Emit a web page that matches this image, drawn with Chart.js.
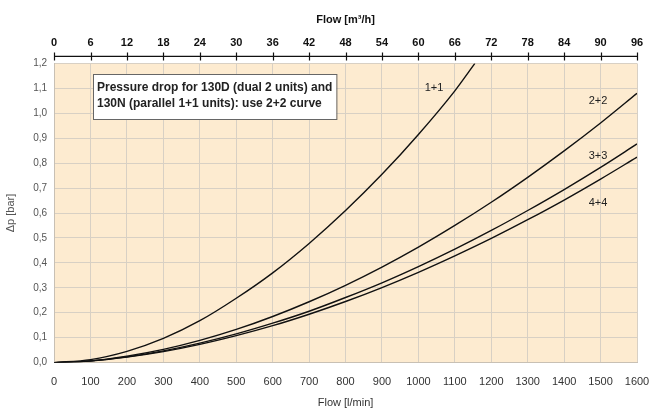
<!DOCTYPE html>
<html>
<head>
<meta charset="utf-8">
<script src="https://cdn.jsdelivr.net/npm/chart.js@4.4.1/dist/chart.umd.min.js"></script>
<style>
  body { margin: 0; background: #fff; }
  #wrap { width: 650px; height: 410px; }
</style>
</head>
<body>
<div id="wrap"><canvas id="dpChart" width="650" height="410"></canvas></div>
<script>
// flow in l/min, pressure drop in bar
const flowPoints = [0, 100, 200, 300, 400, 500, 600, 700, 800, 900, 1000, 1100, 1200, 1300, 1400, 1500, 1600];
const curve11 = [0, 0.012, 0.045, 0.097, 0.168, 0.258, 0.36, 0.478, 0.61, 0.755, 0.915, 1.09];
const curve11End = [1155, 1.2];
const curve22 = [0, 0.007, 0.026, 0.053, 0.089, 0.133, 0.185, 0.244, 0.31, 0.383, 0.463, 0.55, 0.643, 0.743, 0.849, 0.961, 1.08];
const curve33 = [0, 0.007, 0.023, 0.047, 0.078, 0.115, 0.158, 0.206, 0.261, 0.32, 0.385, 0.455, 0.53, 0.61, 0.694, 0.783, 0.877];
const curve44 = [0, 0.006, 0.022, 0.044, 0.073, 0.108, 0.148, 0.194, 0.245, 0.301, 0.362, 0.428, 0.498, 0.573, 0.652, 0.736, 0.824];
const curveNames = ['1+1', '2+2', '3+3', '4+4'];
// where each curve name sits [flow, bar]
const nameSpots = [[1043, 1.1], [1493, 1.05], [1493, 0.83], [1493, 0.64]];
const noteLines = ['Pressure drop for 130D (dual 2 units) and', '130N (parallel 1+1 units): use 2+2 curve'];
const noteSpot = [107, 1.156];

const toPts = (vals) => vals.map((v, i) => ({ x: flowPoints[i], y: v }));
const pts11 = toPts(curve11).concat([{ x: curve11End[0], y: curve11End[1] }]);

const lineStyle = {
  borderColor: '#111',
  borderWidth: 1.4,
  pointRadius: 0,
  fill: false,
  cubicInterpolationMode: 'monotone',
  xAxisID: 'x',
};

// let the last tick label run past the plot edge, like the original
const noSidePad = (scale) => { scale.paddingRight = 0; };

const plotBg = {
  id: 'plotBg',
  beforeDraw(chart) {
    const { ctx, chartArea } = chart;
    ctx.save();
    ctx.fillStyle = '#fdebd0';
    ctx.fillRect(chartArea.left, chartArea.top, chartArea.right - chartArea.left, chartArea.bottom - chartArea.top);
    ctx.restore();
  },
};

const extras = {
  id: 'extras',
  afterDraw(chart) {
    const { ctx, chartArea } = chart;
    const xs = chart.scales.x;
    const ys = chart.scales.y;
    const top = chart.scales.x2;
    ctx.save();
    // top axis line with ticks, a little above the plot
    const ay = chartArea.top - 7;
    ctx.strokeStyle = '#111';
    ctx.lineWidth = 1.2;
    ctx.beginPath();
    ctx.moveTo(top.left, ay);
    ctx.lineTo(top.right, ay);
    top.ticks.forEach((t) => {
      const px = Math.round(top.getPixelForValue(t.value)) + 0.5;
      ctx.moveTo(px, ay - 4);
      ctx.lineTo(px, ay + 4);
    });
    ctx.stroke();

    // curve names
    ctx.fillStyle = '#222';
    ctx.font = '11px "Liberation Sans", Arial, sans-serif';
    ctx.textAlign = 'center';
    ctx.textBaseline = 'middle';
    curveNames.forEach((n, i) => {
      ctx.fillText(n, xs.getPixelForValue(nameSpots[i][0]), ys.getPixelForValue(nameSpots[i][1]));
    });

    // note box
    ctx.font = 'bold 12px "Liberation Sans", Arial, sans-serif';
    ctx.textAlign = 'left';
    ctx.textBaseline = 'alphabetic';
    const bx = Math.round(xs.getPixelForValue(noteSpot[0]));
    const by = Math.round(ys.getPixelForValue(noteSpot[1]));
    const w = Math.max(...noteLines.map((l) => ctx.measureText(l).width)) + 8;
    ctx.fillStyle = '#fff';
    ctx.fillRect(bx, by, w, 45);
    ctx.strokeStyle = '#666';
    ctx.lineWidth = 1;
    ctx.strokeRect(bx + 0.5, by + 0.5, w, 45);
    ctx.fillStyle = '#222';
    noteLines.forEach((l, i) => ctx.fillText(l, bx + 4, by + 17 + i * 16));
    ctx.restore();
  },
};

const ctx = document.getElementById('dpChart').getContext('2d');
const dpChart = new Chart(ctx, {
  type: 'line',
  data: {
    datasets: [
      { ...lineStyle, label: curveNames[0], data: pts11 },
      { ...lineStyle, label: curveNames[1], data: toPts(curve22) },
      { ...lineStyle, label: curveNames[2], data: toPts(curve33) },
      { ...lineStyle, label: curveNames[3], data: toPts(curve44) },
    ],
  },
  options: {
    responsive: false,
    animation: false,
    layout: { padding: { left: 4, right: 13, top: 13, bottom: 0 } },
    plugins: { legend: { display: false }, tooltip: { enabled: false } },
    scales: {
      x: {
        type: 'linear',
        position: 'bottom',
        min: 0,
        max: 1600,
        afterFit: noSidePad,
        ticks: { stepSize: 100, color: '#333', padding: 13, font: { family: 'Liberation Sans', size: 11 }, callback: (v) => String(v) },
        grid: { color: '#d8d0c4', drawTicks: false },
        border: { color: '#c8c0b4' },
        title: { display: true, text: 'Flow [l/min]', color: '#333', padding: { top: -5, bottom: 0 }, font: { family: 'Liberation Sans', size: 11 } },
      },
      x2: {
        type: 'linear',
        position: 'top',
        min: 0,
        max: 96,
        afterFit: noSidePad,
        ticks: { stepSize: 6, color: '#111', padding: 14, font: { family: 'Liberation Sans', size: 11, weight: 'bold' }, callback: (v) => String(v) },
        grid: { display: false, drawTicks: false },
        border: { display: false },
        title: { display: true, text: 'Flow [m³/h]', color: '#111', padding: { top: 0, bottom: -4 }, font: { family: 'Liberation Sans', size: 11, weight: 'bold' } },
      },
      y: {
        min: 0,
        max: 1.2,
        ticks: {
          stepSize: 0.1,
          color: '#555',
          padding: 7,
          font: { family: 'Liberation Sans', size: 10 },
          callback: (v) => v.toFixed(1).replace('.', ','),
        },
        grid: { color: '#d8d0c4', drawTicks: false },
        border: { color: '#c8c0b4' },
        title: { display: true, text: 'Δp [bar]', color: '#555', padding: { top: 0, bottom: 9 }, font: { family: 'Liberation Sans', size: 11 } },
      },
    },
  },
  plugins: [plotBg, extras],
});
</script>
</body>
</html>
